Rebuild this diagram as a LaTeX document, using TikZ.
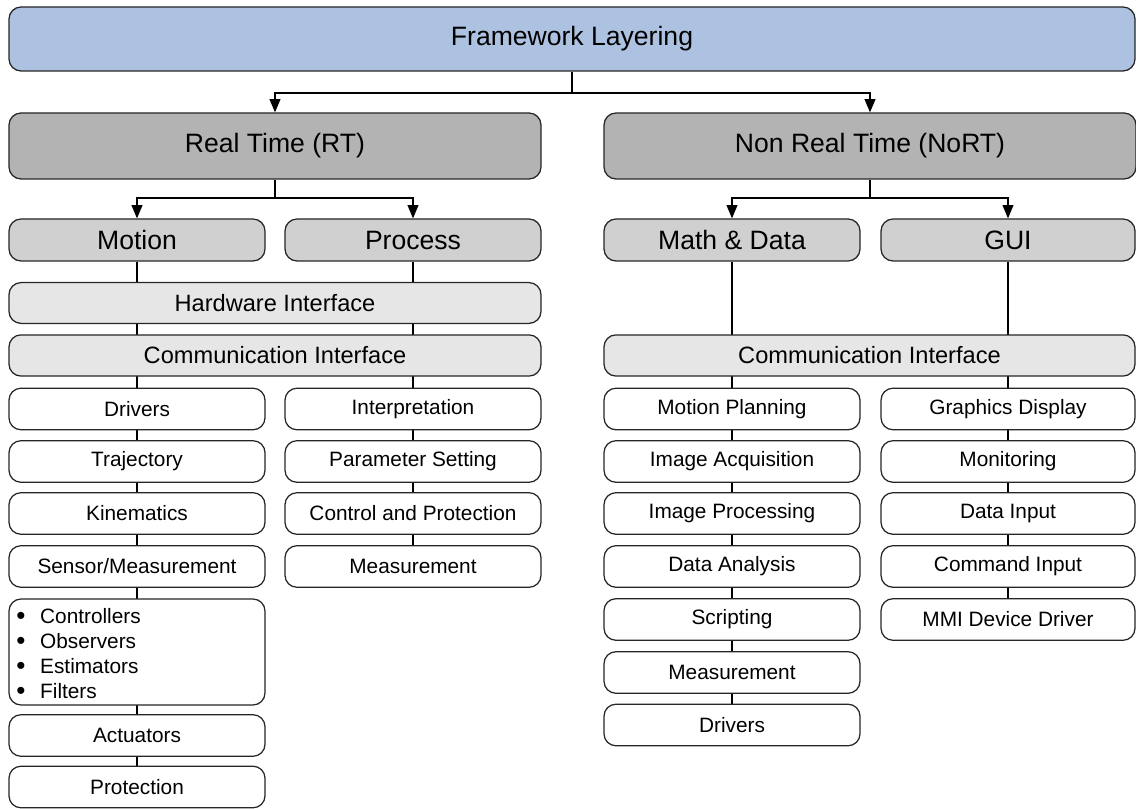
\documentclass[tikz,border=0pt]{standalone}
\usepackage{fontspec}
\setmainfont{Liberation Sans}
\usetikzlibrary{arrows.meta,backgrounds}
\definecolor{layerblue}{RGB}{173,194,225}
\definecolor{layergray}{RGB}{179,179,179}
\definecolor{groupgray}{RGB}{208,208,208}
\definecolor{ifacegray}{RGB}{230,230,230}
\newcommand{\bulletmark}{\smash{\raisebox{-0.03cm}{\scalebox{1.25}{\textbullet}}}}
\tikzset{
	box/.style={shape=rectangle, rounded corners=0.3cm, draw=black!85, line width=0.9pt, inner sep=2pt},
	layer/.style={box, fill=layerblue, minimum width=28.15cm, minimum height=1.6cm, font=\fontsize{18.9}{22}\selectfont},
	timebox/.style={box, fill=layergray, minimum width=13.3cm, minimum height=1.65cm, font=\fontsize{18.9}{22}\selectfont},
	groupbox/.style={box, fill=groupgray, minimum width=6.4cm, minimum height=1.05cm, font=\fontsize{18.9}{22}\selectfont},
	iface/.style={box, fill=ifacegray, minimum width=13.3cm, minimum height=1.02cm, font=\fontsize{16.8}{20}\selectfont},
	leaf/.style={box, fill=white, minimum width=6.4cm, minimum height=1.04cm, font=\fontsize{14.8}{17.8}\selectfont},
	wire/.style={draw=black, line width=0.9pt},
	flow/.style={wire, -{Triangle[length=0.33cm, width=0.27cm]}}
}
\begin{document}
\begin{tikzpicture}
	\useasboundingbox (0,0) rectangle (28.4,20.2);
	% Layers:
	\node[layer] (fw) at (14.3, 19.225){Framework Layering};
	\node[timebox] (rt) at (6.875, 16.55){Real Time (RT)};
	\node[timebox] (nrt) at (21.75, 16.55){Non Real Time (NoRT)};
	\node[groupbox] (motion) at (3.425, 14.2){Motion};
	\node[groupbox] (process) at (10.325, 14.2){Process};
	\node[groupbox] (math) at (18.3, 14.2){Math \& Data};
	\node[groupbox, minimum width=6.35cm] (gui) at (25.2, 14.2){GUI};
	\node[iface] (hwif) at (6.875, 12.625){Hardware Interface};
	\node[iface, minimum height=1.03cm] (comrt) at (6.875, 11.3125){Communication Interface};
	\node[iface, minimum height=1.03cm, minimum width=13.275cm] (comnrt) at (21.7375, 11.3125){Communication Interface};
	% Motion column:
	\node[leaf] (drv) at (3.425, 9.975){Drivers};
	\node[leaf] (traj) at (3.425, 8.6625){Trajectory};
	\node[leaf] (kin) at (3.425, 7.3625){Kinematics};
	\node[leaf] (sens) at (3.425, 6.0375){Sensor/Measurement};
	\node[leaf, minimum height=2.65cm] (ctrl) at (3.425, 3.9){};
	\node[anchor=west, align=left, inner sep=0pt, font=\fontsize{14.8}{17.8}\selectfont] (ctrltxt) at (0.4, 3.8){\begin{tabular}{@{}l@{\hspace{0.37cm}}l@{}}\bulletmark & Controllers\\ \bulletmark & Observers\\ \bulletmark & Estimators\\ \bulletmark & Filters\end{tabular}};
	\node[leaf] (act) at (3.425, 1.8125){Actuators};
	\node[leaf] (prot) at (3.425, 0.525){Protection};
	% Process column:
	\node[leaf] (interp) at (10.325, 9.975){Interpretation};
	\node[leaf] (param) at (10.325, 8.6625){Parameter Setting};
	\node[leaf] (cprot) at (10.325, 7.3625){Control and Protection};
	\node[leaf] (pmeas) at (10.325, 6.0375){Measurement};
	% Math & Data column:
	\node[leaf] (plan) at (18.3, 9.975){Motion Planning};
	\node[leaf] (acq) at (18.3, 8.6625){Image Acquisition};
	\node[leaf] (imgproc) at (18.3, 7.3625){Image Processing};
	\node[leaf] (anal) at (18.3, 6.0375){Data Analysis};
	\node[leaf] (script) at (18.3, 4.7125){Scripting};
	\node[leaf] (mmeas) at (18.3, 3.3875){Measurement};
	\node[leaf] (mdrv) at (18.3, 2.075){Drivers};
	% GUI column:
	\node[leaf, minimum width=6.35cm] (gfx) at (25.2, 9.975){Graphics Display};
	\node[leaf, minimum width=6.35cm] (mon) at (25.2, 8.6625){Monitoring};
	\node[leaf, minimum width=6.35cm] (din) at (25.2, 7.3625){Data Input};
	\node[leaf, minimum width=6.35cm] (cin) at (25.2, 6.0375){Command Input};
	\node[leaf, minimum width=6.35cm] (mmi) at (25.2, 4.7125){MMI Device Driver};
	% Wires:
	\coordinate (j0) at (14.3, 17.875);
	\coordinate (j1) at (6.875, 15.25);
	\coordinate (j2) at (21.75, 15.25);
	\draw[wire] (fw.south) -- (j0);
	\draw[flow] (j0) -| (rt.north);
	\draw[flow] (j0) -| (nrt.north);
	\draw[wire] (rt.south) -- (j1);
	\draw[flow] (j1) -| (motion.north);
	\draw[flow] (j1) -| (process.north);
	\draw[wire] (nrt.south) -- (j2);
	\draw[flow] (j2) -| (math.north);
	\draw[flow] (j2) -| (gui.north);
	\begin{pgfonlayer}{background}
		\draw[wire] (motion.south) -- (prot.north);
		\draw[wire] (process.south) -- (pmeas.north);
		\draw[wire] (math.south) -- (mdrv.north);
		\draw[wire] (gui.south) -- (mmi.north);
	\end{pgfonlayer}
\end{tikzpicture}
\end{document}
